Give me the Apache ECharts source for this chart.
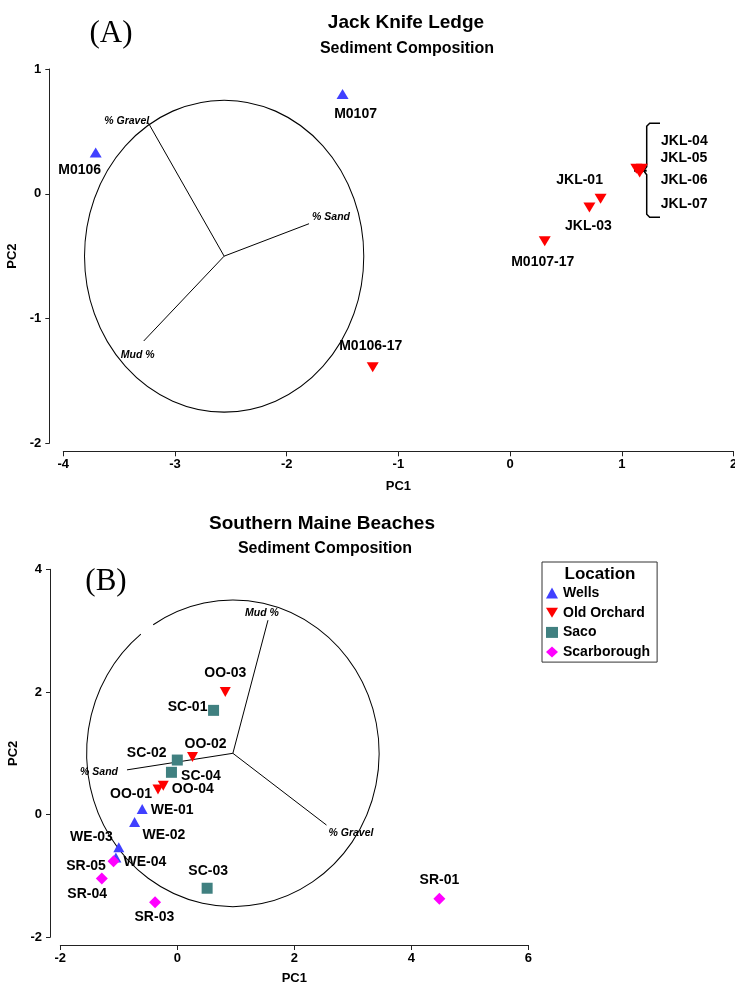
<!DOCTYPE html>
<html><head><meta charset="utf-8">
<script src="https://cdn.jsdelivr.net/npm/echarts@6/dist/echarts.min.js"></script>
<style>html,body{margin:0;padding:0;background:#fff}#c{width:735px;height:986px}</style>
</head><body><div id="c"></div>
<script>
// ---------- DATA (A) Jack Knife Ledge ----------
const topBlueNames = ['M0106', 'M0107'];
const topBlueX = [-3.71, -1.50];
const topBlueY = [0.33, 0.80];
const topRedNames = ['M0106-17', 'M0107-17', 'JKL-01', 'JKL-03', 'JKL-04', 'JKL-05', 'JKL-06', 'JKL-07'];
const topRedX = [-1.23, 0.31, 0.81, 0.71, 1.13, 1.18, 1.16, 1.16];
const topRedY = [-1.39, -0.38, -0.04, -0.11, 0.20, 0.20, 0.17, 0.19];
const topVectorNames = ['% Gravel', '% Sand', 'Mud %'];
const topVectorX = [-3.24, -1.80, -3.28];
const topVectorY = [0.57, -0.24, -1.18];
const topCenter = [-2.56, -0.50];
const topCircleRadius = 1.25;
const topXTicks = [-4, -3, -2, -1, 0, 1, 2];
const topYTicks = [-2, -1, 0, 1];

// ---------- DATA (B) Southern Maine Beaches ----------
const wellsNames = ['WE-01', 'WE-02', 'WE-03', 'WE-04'];
const wellsX = [-0.60, -0.73, -1.00, -1.05];
const wellsY = [0.09, -0.12, -0.53, -0.70];
const oldOrchardNames = ['OO-01', 'OO-02', 'OO-03', 'OO-04'];
const oldOrchardX = [-0.33, 0.26, 0.82, -0.24];
const oldOrchardY = [0.41, 0.94, 2.00, 0.47];
const sacoNames = ['SC-01', 'SC-02', 'SC-03', 'SC-04'];
const sacoX = [0.62, 0.00, 0.51, -0.10];
const sacoY = [1.70, 0.89, -1.20, 0.69];
const scarboroughNames = ['SR-01', 'SR-03', 'SR-04', 'SR-05'];
const scarboroughX = [4.48, -0.38, -1.29, -1.09];
const scarboroughY = [-1.37, -1.43, -1.04, -0.76];
const bottomVectorNames = ['Mud %', '% Gravel', '% Sand'];
const bottomVectorX = [1.55, 2.55, -0.86];
const bottomVectorY = [3.17, -0.17, 0.73];
const bottomCenter = [0.95, 1.00];
const bottomCircleRadius = 2.5;
const bottomXTicks = [-2, 0, 2, 4, 6];
const bottomYTicks = [-2, 0, 2, 4];
const legendNames = ['Wells', 'Old Orchard', 'Saco', 'Scarborough'];

// bracket annotation (data units) next to JKL-04..07
const bracket = { x: 1.223, top: 0.565, bottom: -0.188, mid: 0.185, tipX: 1.109, serifX: 1.342 };

// ---------- STYLE ----------
const SANS = '"Liberation Sans", Arial, sans-serif';
const SERIF = '"Liberation Serif", "Times New Roman", serif';
const C_BLUE = '#4040ff', C_RED = '#ff0000', C_TEAL = '#408080', C_MAG = '#ff00ff';
const DOWN_TRI = 'path://M0,0 L12,0 L6,10 Z';

// label offsets (px, text centre relative to marker centre)
const labelOffsets = {
  'M0106': [-16, 18], 'M0107': [13, 20], 'M0106-17': [-2, -21], 'M0107-17': [-2, 21],
  'JKL-01': [-21, -19], 'JKL-03': [-1, 19],
  'JKL-04': [48, -28], 'JKL-05': [42, -10.5], 'JKL-06': [44.5, 7.5], 'JKL-07': [44.5, 34],
  'OO-03': [0, -19], 'SC-01': [-26, -3], 'OO-02': [13, -12.7], 'SC-02': [-30.6, -6.7],
  'SC-04': [29.5, 3.4], 'OO-04': [29.5, 3.3], 'OO-01': [-27, 5], 'WE-01': [30, 1.4],
  'WE-02': [29.3, 12.7], 'WE-03': [-27.3, -9.6], 'WE-04': [29, 5], 'SR-05': [-27.5, 4.7],
  'SR-04': [-14.7, 15.7], 'SR-03': [-0.7, 15.3], 'SC-03': [1, -17.3], 'SR-01': [0, -18.7]
};
const topVectorLabel = {
  '% Gravel': { align: 'right', offset: [1, -2] },
  '% Sand': { align: 'left', offset: [3, -7] },
  'Mud %': { align: 'center', offset: [-6, 14] }
};
const bottomVectorLabel = {
  'Mud %': { align: 'center', offset: [-6, -7] },
  '% Gravel': { align: 'left', offset: [2, 8] },
  '% Sand': { align: 'right', offset: [-9, 2] }
};
const circleGap = { top: null, bottom: [123, 129] }; // degrees where the circle outline is broken

function points(names, xs, ys) {
  return names.map((n, i) => ({
    name: n, value: [xs[i], ys[i]],
    label: { offset: labelOffsets[n] || [0, 0] }
  }));
}
const pointLabel = {
  show: true, position: 'inside', formatter: '{b}', color: '#000',
  fontFamily: SANS, fontWeight: 'bold', fontSize: 14, textBorderWidth: 0
};
function scatter(name, names, xs, ys, symbol, size, color, idx) {
  return {
    type: 'scatter', name, xAxisIndex: idx, yAxisIndex: idx, symbol, symbolSize: size,
    itemStyle: { color, opacity: 1 }, label: pointLabel, data: points(names, xs, ys), z: 5
  };
}
function vectorSeries(names, xs, ys, center, labelCfg, idx) {
  return names.map((n, i) => ({
    type: 'line', name: 'vec-' + idx + '-' + i, xAxisIndex: idx, yAxisIndex: idx,
    symbol: 'circle', symbolSize: 0, showSymbol: true, silent: true,
    lineStyle: { color: '#000', width: 1 }, itemStyle: { color: '#000' },
    data: [
      { value: center.slice(), label: { show: false } },
      { value: [xs[i], ys[i]], name: n, label: {
        show: true, position: 'inside', formatter: n, color: '#000',
        fontFamily: SANS, fontStyle: 'italic', fontWeight: 'bold', fontSize: 10.5, textBorderWidth: 0,
        align: labelCfg[n].align, verticalAlign: 'middle', offset: labelCfg[n].offset } }
    ], z: 3
  }));
}
function circleSeries(center, r, gap, idx) {
  return {
    type: 'custom', name: 'circle-' + idx, xAxisIndex: idx, yAxisIndex: idx, silent: true, z: 2,
    data: [[center[0], center[1], r]],
    renderItem(params, api) {
      const c = api.coord([api.value(0), api.value(1)]);
      const s = api.size([api.value(2), api.value(2)]);
      let sa = 0, ea = Math.PI * 2;
      if (gap) { sa = -gap[0] * Math.PI / 180; ea = (360 - gap[1]) * Math.PI / 180; }
      return {
        type: 'arc', x: c[0], y: c[1], scaleY: s[1] / s[0],
        shape: { cx: 0, cy: 0, r: s[0], startAngle: sa, endAngle: ea, clockwise: true },
        style: { stroke: '#000', fill: null, lineWidth: 1, strokeNoScale: true }
      };
    }
  };
}
const bracketSeries = {
  type: 'custom', name: 'bracket', xAxisIndex: 0, yAxisIndex: 0, silent: true, z: 4,
  data: [[bracket.x, bracket.mid]],
  renderItem(params, api) {
    const P = (x, y) => api.coord([x, y]);
    const tR = P(bracket.serifX, bracket.top), v = P(bracket.x, bracket.top), vb = P(bracket.x, bracket.bottom);
    const bR = P(bracket.serifX, bracket.bottom), m = P(bracket.x, bracket.mid), tip = P(bracket.tipX, bracket.mid);
    const pts = [
      [tR[0], tR[1]], [v[0] + 3, v[1]], [v[0], v[1] + 3], [m[0], m[1] - 4], [m[0] - 3, m[1]],
      [m[0], m[1] + 4], [vb[0], vb[1] - 3], [vb[0] + 3, vb[1]], [bR[0], bR[1]]
    ];
    return { type: 'group', children: [
      { type: 'polyline', shape: { points: pts }, style: { stroke: '#000', fill: null, lineWidth: 1.5 } },
      { type: 'line', shape: { x1: tip[0], y1: tip[1], x2: m[0], y2: m[1] }, style: { stroke: '#000', lineWidth: 2 } }
    ] };
  }
};

const axisLabelStyle = { color: '#000', fontFamily: SANS, fontWeight: 'bold', fontSize: 13 };
const axisNameStyle = { color: '#000', fontFamily: SANS, fontWeight: 'bold', fontSize: 13 };
function xAxis(idx, ticks, offset, nameGap) {
  return {
    type: 'value', gridIndex: idx, min: ticks[0], max: ticks[ticks.length - 1], interval: ticks[1] - ticks[0],
    offset, name: 'PC1', nameLocation: 'middle', nameGap, nameTextStyle: axisNameStyle,
    axisLine: { show: true, onZero: false, lineStyle: { color: '#222', width: 1 } },
    axisTick: { show: true, inside: false, length: 5, lineStyle: { color: '#222' } },
    axisLabel: Object.assign({ margin: 7, showMinLabel: true, showMaxLabel: true, hideOverlap: false }, axisLabelStyle),
    splitLine: { show: false }
  };
}
function yAxis(idx, ticks, offset, nameGap) {
  return {
    type: 'value', gridIndex: idx, min: ticks[0], max: ticks[ticks.length - 1], interval: ticks[1] - ticks[0],
    offset, name: 'PC2', nameLocation: 'middle', nameGap, nameTextStyle: axisNameStyle,
    axisLine: { show: true, onZero: false, lineStyle: { color: '#222', width: 1 } },
    axisTick: { show: true, inside: false, length: 4, lineStyle: { color: '#222' } },
    axisLabel: Object.assign({ margin: 8, showMinLabel: true, showMaxLabel: true, hideOverlap: false }, axisLabelStyle),
    splitLine: { show: false }
  };
}

const chart = echarts.init(document.getElementById('c'), null, { renderer: 'canvas' });
chart.setOption({
  animation: false,
  backgroundColor: '#fff',
  grid: [
    { left: 63.3, top: 69, width: 670.2, height: 374.3, containLabel: false, outerBoundsMode: 'none' },
    { left: 60.3, top: 569.3, width: 468, height: 368, containLabel: false, outerBoundsMode: 'none' }
  ],
  xAxis: [xAxis(0, topXTicks, 8, 29), xAxis(1, bottomXTicks, 7.7, 27)],
  yAxis: [yAxis(0, topYTicks, 14, 28), yAxis(1, bottomYTicks, 10.3, 27)],
  legend: {
    data: legendNames, orient: 'vertical', left: 542, top: 562,
    padding: [24, 7, 3, 4], itemGap: 5.7, itemWidth: 12, itemHeight: 11,
    borderColor: '#333', borderWidth: 1, backgroundColor: '#fff', selectedMode: false,
    textStyle: { color: '#000', fontFamily: SANS, fontWeight: 'bold', fontSize: 14, lineHeight: 14 }
  },
  graphic: [
    { type: 'text', x: 406, y: 23, style: { text: 'Jack Knife Ledge', font: 'bold 19px ' + SANS, fill: '#000', align: 'center', verticalAlign: 'middle' } },
    { type: 'text', x: 407, y: 49, style: { text: 'Sediment Composition', font: 'bold 16px ' + SANS, fill: '#000', align: 'center', verticalAlign: 'middle' } },
    { type: 'text', x: 111, y: 34, style: { text: '(A)', font: '31px ' + SERIF, fill: '#000', align: 'center', verticalAlign: 'middle' } },
    { type: 'text', x: 322, y: 524, style: { text: 'Southern Maine Beaches', font: 'bold 19px ' + SANS, fill: '#000', align: 'center', verticalAlign: 'middle' } },
    { type: 'text', x: 325, y: 549, style: { text: 'Sediment Composition', font: 'bold 16px ' + SANS, fill: '#000', align: 'center', verticalAlign: 'middle' } },
    { type: 'text', x: 106, y: 582, style: { text: '(B)', font: '31px ' + SERIF, fill: '#000', align: 'center', verticalAlign: 'middle' } },
    { type: 'text', x: 600, y: 574, z: 100, style: { text: 'Location', font: 'bold 17px ' + SANS, fill: '#000', align: 'center', verticalAlign: 'middle' } }
  ],
  series: [
    circleSeries(topCenter, topCircleRadius, circleGap.top, 0),
    ...vectorSeries(topVectorNames, topVectorX, topVectorY, topCenter, topVectorLabel, 0),
    bracketSeries,
    scatter('Jack Knife Ledge 2001', topBlueNames, topBlueX, topBlueY, 'triangle', [12, 10], C_BLUE, 0),
    scatter('Jack Knife Ledge 2017', topRedNames, topRedX, topRedY, DOWN_TRI, [12, 10], C_RED, 0),
    circleSeries(bottomCenter, bottomCircleRadius, circleGap.bottom, 1),
    ...vectorSeries(bottomVectorNames, bottomVectorX, bottomVectorY, bottomCenter, bottomVectorLabel, 1),
    scatter('Wells', wellsNames, wellsX, wellsY, 'triangle', [11, 10], C_BLUE, 1),
    scatter('Old Orchard', oldOrchardNames, oldOrchardX, oldOrchardY, DOWN_TRI, [11, 10], C_RED, 1),
    scatter('Saco', sacoNames, sacoX, sacoY, 'rect', [11, 11], C_TEAL, 1),
    scatter('Scarborough', scarboroughNames, scarboroughX, scarboroughY, 'diamond', [12, 12], C_MAG, 1)
  ]
});
</script></body></html>
